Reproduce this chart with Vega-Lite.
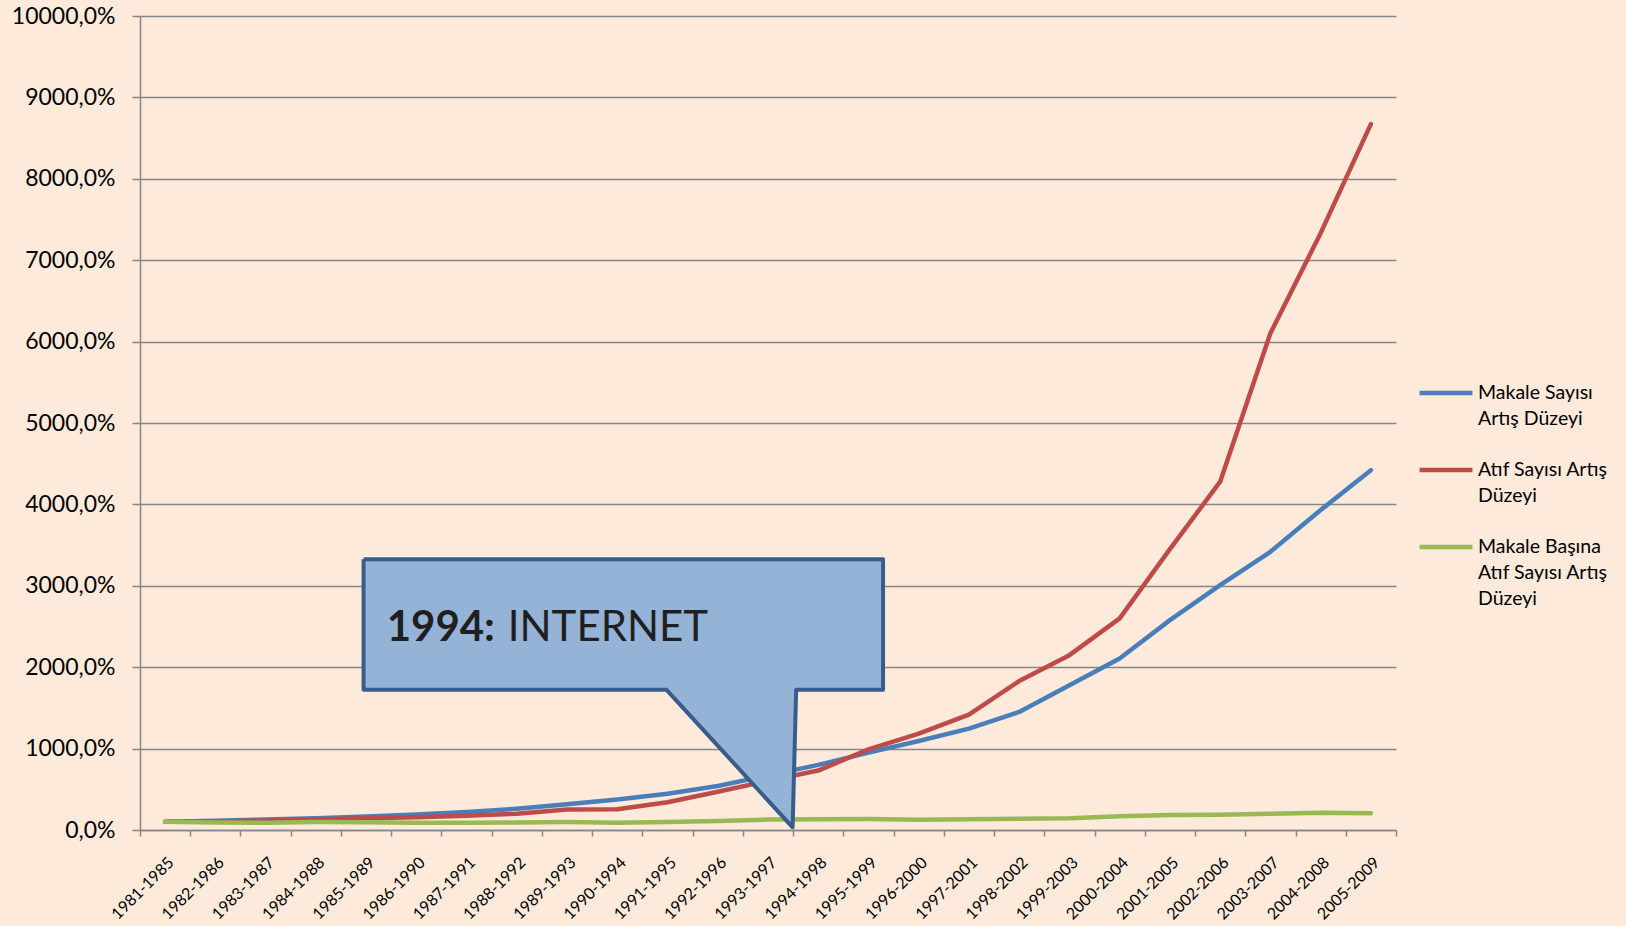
{
  "$schema": "https://vega.github.io/schema/vega-lite/v6.json",
  "width": 1256,
  "height": 814,
  "autosize": {"type": "none"},
  "padding": {"left": 140, "top": 16, "right": 230, "bottom": 96},
  "background": "#FDEADA",
  "config": {
    "view": {"stroke": null},
    "font": "Lato",
    "style": {"guide-label": {"lineHeight": 26}}
  },
  "datasets": {
    "series": [
      {"period": "1981-1985", "series": "Makale Sayısı Artış Düzeyi", "value": 100},
      {"period": "1982-1986", "series": "Makale Sayısı Artış Düzeyi", "value": 115},
      {"period": "1983-1987", "series": "Makale Sayısı Artış Düzeyi", "value": 128},
      {"period": "1984-1988", "series": "Makale Sayısı Artış Düzeyi", "value": 144},
      {"period": "1985-1989", "series": "Makale Sayısı Artış Düzeyi", "value": 165},
      {"period": "1986-1990", "series": "Makale Sayısı Artış Düzeyi", "value": 190},
      {"period": "1987-1991", "series": "Makale Sayısı Artış Düzeyi", "value": 220},
      {"period": "1988-1992", "series": "Makale Sayısı Artış Düzeyi", "value": 262},
      {"period": "1989-1993", "series": "Makale Sayısı Artış Düzeyi", "value": 315},
      {"period": "1990-1994", "series": "Makale Sayısı Artış Düzeyi", "value": 375},
      {"period": "1991-1995", "series": "Makale Sayısı Artış Düzeyi", "value": 445},
      {"period": "1992-1996", "series": "Makale Sayısı Artış Düzeyi", "value": 540},
      {"period": "1993-1997", "series": "Makale Sayısı Artış Düzeyi", "value": 670},
      {"period": "1994-1998", "series": "Makale Sayısı Artış Düzeyi", "value": 800},
      {"period": "1995-1999", "series": "Makale Sayısı Artış Düzeyi", "value": 950},
      {"period": "1996-2000", "series": "Makale Sayısı Artış Düzeyi", "value": 1094},
      {"period": "1997-2001", "series": "Makale Sayısı Artış Düzeyi", "value": 1246},
      {"period": "1998-2002", "series": "Makale Sayısı Artış Düzeyi", "value": 1451},
      {"period": "1999-2003", "series": "Makale Sayısı Artış Düzeyi", "value": 1779},
      {"period": "2000-2004", "series": "Makale Sayısı Artış Düzeyi", "value": 2107},
      {"period": "2001-2005", "series": "Makale Sayısı Artış Düzeyi", "value": 2578},
      {"period": "2002-2006", "series": "Makale Sayısı Artış Düzeyi", "value": 3008},
      {"period": "2003-2007", "series": "Makale Sayısı Artış Düzeyi", "value": 3418},
      {"period": "2004-2008", "series": "Makale Sayısı Artış Düzeyi", "value": 3930},
      {"period": "2005-2009", "series": "Makale Sayısı Artış Düzeyi", "value": 4420},
      {"period": "1981-1985", "series": "Atıf Sayısı Artış Düzeyi", "value": 100},
      {"period": "1982-1986", "series": "Atıf Sayısı Artış Düzeyi", "value": 103},
      {"period": "1983-1987", "series": "Atıf Sayısı Artış Düzeyi", "value": 115},
      {"period": "1984-1988", "series": "Atıf Sayısı Artış Düzeyi", "value": 132},
      {"period": "1985-1989", "series": "Atıf Sayısı Artış Düzeyi", "value": 144},
      {"period": "1986-1990", "series": "Atıf Sayısı Artış Düzeyi", "value": 158},
      {"period": "1987-1991", "series": "Atıf Sayısı Artış Düzeyi", "value": 175},
      {"period": "1988-1992", "series": "Atıf Sayısı Artış Düzeyi", "value": 200},
      {"period": "1989-1993", "series": "Atıf Sayısı Artış Düzeyi", "value": 253},
      {"period": "1990-1994", "series": "Atıf Sayısı Artış Düzeyi", "value": 255},
      {"period": "1991-1995", "series": "Atıf Sayısı Artış Düzeyi", "value": 340},
      {"period": "1992-1996", "series": "Atıf Sayısı Artış Düzeyi", "value": 469},
      {"period": "1993-1997", "series": "Atıf Sayısı Artış Düzeyi", "value": 604},
      {"period": "1994-1998", "series": "Atıf Sayısı Artış Düzeyi", "value": 730},
      {"period": "1995-1999", "series": "Atıf Sayısı Artış Düzeyi", "value": 990},
      {"period": "1996-2000", "series": "Atıf Sayısı Artış Düzeyi", "value": 1184},
      {"period": "1997-2001", "series": "Atıf Sayısı Artış Düzeyi", "value": 1418},
      {"period": "1998-2002", "series": "Atıf Sayısı Artış Düzeyi", "value": 1830},
      {"period": "1999-2003", "series": "Atıf Sayısı Artış Düzeyi", "value": 2148},
      {"period": "2000-2004", "series": "Atıf Sayısı Artış Düzeyi", "value": 2600},
      {"period": "2001-2005", "series": "Atıf Sayısı Artış Düzeyi", "value": 3450},
      {"period": "2002-2006", "series": "Atıf Sayısı Artış Düzeyi", "value": 4279},
      {"period": "2003-2007", "series": "Atıf Sayısı Artış Düzeyi", "value": 6102},
      {"period": "2004-2008", "series": "Atıf Sayısı Artış Düzeyi", "value": 7332},
      {"period": "2005-2009", "series": "Atıf Sayısı Artış Düzeyi", "value": 8672},
      {"period": "1981-1985", "series": "Makale Başına Atıf Sayısı Artış Düzeyi", "value": 100},
      {"period": "1982-1986", "series": "Makale Başına Atıf Sayısı Artış Düzeyi", "value": 92},
      {"period": "1983-1987", "series": "Makale Başına Atıf Sayısı Artış Düzeyi", "value": 88},
      {"period": "1984-1988", "series": "Makale Başına Atıf Sayısı Artış Düzeyi", "value": 98},
      {"period": "1985-1989", "series": "Makale Başına Atıf Sayısı Artış Düzeyi", "value": 95},
      {"period": "1986-1990", "series": "Makale Başına Atıf Sayısı Artış Düzeyi", "value": 90},
      {"period": "1987-1991", "series": "Makale Başına Atıf Sayısı Artış Düzeyi", "value": 90},
      {"period": "1988-1992", "series": "Makale Başına Atıf Sayısı Artış Düzeyi", "value": 92},
      {"period": "1989-1993", "series": "Makale Başına Atıf Sayısı Artış Düzeyi", "value": 97},
      {"period": "1990-1994", "series": "Makale Başına Atıf Sayısı Artış Düzeyi", "value": 90},
      {"period": "1991-1995", "series": "Makale Başına Atıf Sayısı Artış Düzeyi", "value": 97},
      {"period": "1992-1996", "series": "Makale Başına Atıf Sayısı Artış Düzeyi", "value": 110},
      {"period": "1993-1997", "series": "Makale Başına Atıf Sayısı Artış Düzeyi", "value": 128},
      {"period": "1994-1998", "series": "Makale Başına Atıf Sayısı Artış Düzeyi", "value": 131},
      {"period": "1995-1999", "series": "Makale Başına Atıf Sayısı Artış Düzeyi", "value": 135},
      {"period": "1996-2000", "series": "Makale Başına Atıf Sayısı Artış Düzeyi", "value": 127},
      {"period": "1997-2001", "series": "Makale Başına Atıf Sayısı Artış Düzeyi", "value": 131},
      {"period": "1998-2002", "series": "Makale Başına Atıf Sayısı Artış Düzeyi", "value": 139},
      {"period": "1999-2003", "series": "Makale Başına Atıf Sayısı Artış Düzeyi", "value": 143},
      {"period": "2000-2004", "series": "Makale Başına Atıf Sayısı Artış Düzeyi", "value": 168},
      {"period": "2001-2005", "series": "Makale Başına Atıf Sayısı Artış Düzeyi", "value": 184},
      {"period": "2002-2006", "series": "Makale Başına Atıf Sayısı Artış Düzeyi", "value": 188},
      {"period": "2003-2007", "series": "Makale Başına Atıf Sayısı Artış Düzeyi", "value": 200},
      {"period": "2004-2008", "series": "Makale Başına Atıf Sayısı Artış Düzeyi", "value": 213},
      {"period": "2005-2009", "series": "Makale Başına Atıf Sayısı Artış Düzeyi", "value": 205}
    ],
    "callout": [
      {"ord": 0, "cx": 3.95, "cy": 3327},
      {"ord": 1, "cx": 14.29, "cy": 3327},
      {"ord": 2, "cx": 14.29, "cy": 1722},
      {"ord": 3, "cx": 12.56, "cy": 1722},
      {"ord": 4, "cx": 12.49, "cy": 33},
      {"ord": 5, "cx": 9.98, "cy": 1722},
      {"ord": 6, "cx": 3.95, "cy": 1722},
      {"ord": 7, "cx": 3.95, "cy": 3327}
    ]
  },
  "layer": [
    {
      "data": {"name": "series"},
      "mark": {"type": "line", "strokeWidth": 4.5, "strokeCap": "round", "strokeJoin": "round"},
      "encoding": {
        "x": {
          "field": "period", "type": "ordinal", "sort": null,
          "scale": {"type": "band", "paddingInner": 0, "paddingOuter": 0},
          "axis": {
            "title": null, "tickBand": "extent", "grid": false,
            "labelAngle": -45, "labelFontSize": 16, "labelColor": "#000000",
            "tickColor": "#868686", "tickSize": 6, "tickWidth": 1.5,
            "domainColor": "#868686", "domainWidth": 1.5, "labelPadding": 18
          }
        },
        "y": {
          "field": "value", "type": "quantitative",
          "scale": {"domain": [0, 10000], "nice": false},
          "axis": {
            "title": null,
            "values": [0, 1000, 2000, 3000, 4000, 5000, 6000, 7000, 8000, 9000, 10000],
            "labelExpr": "replace(format(datum.value, '.1f'), '.', ',') + '%'",
            "grid": true, "gridColor": "#868686", "gridWidth": 1.5,
            "tickColor": "#868686", "tickSize": 8, "tickWidth": 1.5,
            "domainColor": "#868686", "domainWidth": 1.5,
            "labelFontSize": 23, "labelColor": "#000000", "labelPadding": 17
          }
        },
        "color": {
          "field": "series", "type": "nominal",
          "scale": {
            "domain": ["Makale Sayısı Artış Düzeyi", "Atıf Sayısı Artış Düzeyi", "Makale Başına Atıf Sayısı Artış Düzeyi"],
            "range": ["#4A7EBB", "#BE4B48", "#98B954"]
          },
          "legend": {
            "title": null, "orient": "none", "legendX": 1277, "legendY": 348,
            "symbolType": "stroke", "symbolSize": 2800, "symbolStrokeWidth": 4.5,
            "labelFontSize": 19.5, "labelColor": "#000000", "labelOffset": 3,
            "rowPadding": 12, "labelLimit": 300, "padding": 0,
            "labelExpr": "datum.label == 'Makale Sayısı Artış Düzeyi' ? ['Makale Sayısı', 'Artış Düzeyi'] : datum.label == 'Atıf Sayısı Artış Düzeyi' ? ['Atıf Sayısı Artış', 'Düzeyi'] : ['Makale Başına', 'Atıf Sayısı Artış', 'Düzeyi']"
          }
        }
      }
    },
    {
      "data": {"name": "callout"},
      "mark": {"type": "line", "fill": "#95B3D7", "stroke": "#385D8A", "strokeWidth": 4, "strokeJoin": "round"},
      "encoding": {
        "x": {"field": "cx", "type": "quantitative", "scale": {"domain": [-0.5, 24.5], "nice": false, "zero": false}, "axis": null},
        "y": {"field": "cy", "type": "quantitative"},
        "order": {"field": "ord", "type": "quantitative"}
      }
    },
    {
      "data": {"values": [{"tx": 4.41, "ty": 2318, "t": "1994:"}]},
      "mark": {"type": "text", "align": "left", "baseline": "alphabetic", "fontSize": 42, "fontWeight": "bold", "color": "#1F1F1F"},
      "encoding": {
        "x": {"field": "tx", "type": "quantitative", "scale": {"domain": [-0.5, 24.5], "nice": false, "zero": false}, "axis": null},
        "y": {"field": "ty", "type": "quantitative"},
        "text": {"field": "t"}
      }
    },
    {
      "data": {"values": [{"tx": 6.82, "ty": 2318, "t": "INTERNET"}]},
      "mark": {"type": "text", "align": "left", "baseline": "alphabetic", "fontSize": 42, "fontWeight": "normal", "color": "#1F1F1F"},
      "encoding": {
        "x": {"field": "tx", "type": "quantitative", "scale": {"domain": [-0.5, 24.5], "nice": false, "zero": false}, "axis": null},
        "y": {"field": "ty", "type": "quantitative"},
        "text": {"field": "t"}
      }
    }
  ],
  "resolve": {"scale": {"x": "independent"}}
}
